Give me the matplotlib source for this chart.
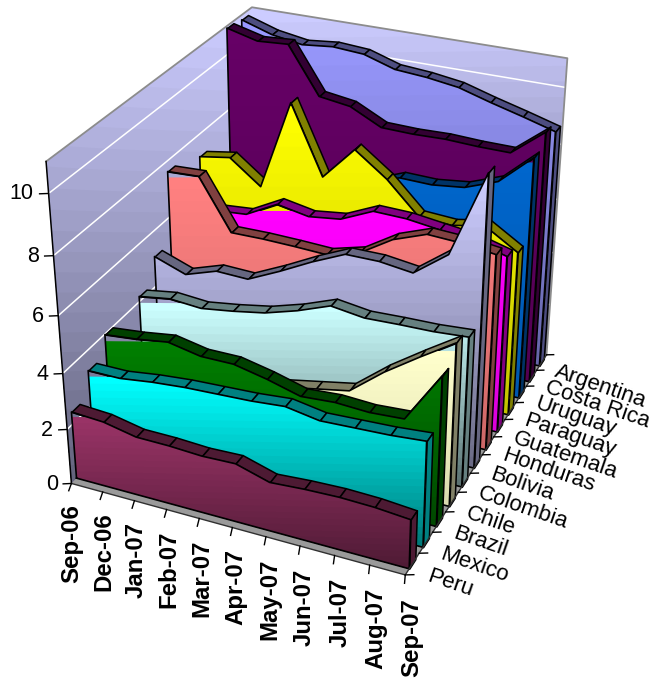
import numpy as np
import matplotlib
matplotlib.use("Agg")
import matplotlib.pyplot as plt
from matplotlib.colors import to_rgb
from mpl_toolkits.mplot3d import proj3d
from mpl_toolkits.mplot3d.art3d import Poly3DCollection

plt.rcParams["font.family"] = ["Liberation Sans", "DejaVu Sans"]

months = ["Sep-06", "Dec-06", "Jan-07", "Feb-07", "Mar-07", "Apr-07",
          "May-07", "Jun-07", "Jul-07", "Aug-07", "Sep-07"]
countries = ["Peru", "Mexico", "Brazil", "Chile", "Colombia", "Bolivia",
             "Honduras", "Guatemala", "Paraguay", "Uruguay", "Costa Rica", "Argentina"]

peru = [2.45, 2.38, 2.14, 2.13, 2.07, 2.11, 1.76, 1.84, 1.88, 1.85, 1.75]
mexico = [3.3, 3.3, 3.45, 3.55, 3.6, 3.65, 3.75, 3.55, 3.6, 3.65, 3.75]
brazil = [3.98, 4.09, 4.25, 4.02, 4.02, 3.77, 3.45, 3.53, 3.47, 3.54, 5.29]
chile = [2.8, 2.7, 2.6, 2.6, 2.7, 2.85, 3.07, 3.29, 4.23, 5.03, 5.79]
colombia = [4.19, 4.36, 4.27, 4.43, 4.63, 4.97, 5.40, 5.24, 5.28, 5.30, 5.38]
bolivia = [5.09, 4.68, 5.05, 5.01, 5.54, 6.12, 6.63, 6.63, 6.48, 7.35, 10.26]
honduras = [7.63, 7.68, 5.90, 5.91, 5.88, 5.83, 6.13, 6.84, 7.26, 7.2, 7.05]
guatemala = [5.7, 5.95, 6.04, 6.63, 6.42, 6.56, 7.07, 7.04, 6.89, 6.75, 6.44]
paraguay = [7.20, 7.38, 6.54, 9.73, 7.33, 8.51, 7.69, 6.59, 6.52, 6.73, 6.03]
uruguay = [6.0, 5.9, 5.8, 6.0, 6.3, 6.8, 7.25, 7.22, 7.35, 7.78, 8.82]
costa_rica = [10.93, 10.65, 10.72, 9.07, 8.91, 8.36, 8.33, 8.36, 8.31, 8.30, 9.22]
argentina = [10.83, 10.48, 10.30, 10.41, 10.33, 9.98, 9.89, 9.73, 9.40, 9.10, 8.78]

series = [peru, mexico, brazil, chile, colombia, bolivia,
          honduras, guatemala, paraguay, uruguay, costa_rica, argentina]
colors = ["#993366", "#00FFFF", "#007F00", "#FFFFCC", "#CCFFFF", "#CCCCFF",
          "#FF8080", "#FF00FF", "#FFFF00", "#0066CC", "#660066", "#9999FF"]
# how far each front face fades towards its bottom
fades = [0.5, 0.45, 0.55, 0.85, 0.42, 0.5, 0.8, 0.85, 0.75, 0.85, 0.8, 0.65]

z_max = 11
z_ticks = [0, 2, 4, 6, 8, 10]
n_x = len(months) - 1
n_y = len(countries)
GAP_FRONT = 0.28
DEPTH = 0.44
STEPS = 24

W, H = 663, 681
fig = plt.figure(figsize=(W / 100, H / 100), dpi=100, facecolor="white")
ax = fig.add_subplot(projection="3d", computed_zorder=False)
ax.set_xlim(0, n_x)
ax.set_ylim(0, n_y)
ax.set_zlim(0, z_max)
ax.view_init(28.7871, -66.185, -0.0847)
ax.set_box_aspect((1.0078, 1.2046, 1.0))
ax.set_proj_type("persp", focal_length=0.5347)
ax.set_axis_off()

# place the axes so the camera centre lands where it does in the picture
scale, cx, cy = 3435.84, 322.42, 268.24
x0, x1 = ax.viewLim.intervalx
y0, y1 = ax.viewLim.intervaly
side = scale * (x1 - x0)
ax.set_position([(cx + scale * x0) / W, (H - cy + scale * y0) / H, side / W, side / H])

order = [10]


def next_z():
    order[0] += 1
    return order[0]


def project(px, py, pz):
    return proj3d.proj_transform(px, py, pz, ax.get_proj())


def screen_y(px, py, pz):
    return project(px, py, pz)[1]


def add_poly(verts, color, edge="none", lw=0.0):
    col = Poly3DCollection(verts, facecolor=color, edgecolor=edge, linewidths=lw, zorder=next_z())
    ax.add_collection3d(col, autolim=False)


def label_at(px, py, pz, text, **kw):
    # Text3D drops rotation, so place plain text at the projected point
    sx, sy, _ = project(np.array([px], float), np.array([py], float), np.array([pz], float))
    ax.text2D(sx[0], sy[0], text, transform=ax.transData, color="black", **kw)


def gradient_face(to3d, u, top, color, fade):
    # bands level on the screen, painted from the whole face down to its lowest corner
    zref = np.full_like(u, z_max, dtype=float)
    w0 = screen_y(*to3d(u, 0 * zref))
    w1 = screen_y(*to3d(u, zref))
    w_top = screen_y(*to3d(u, top))
    hi, lo = w_top.max(), w0.min()
    rgb = np.array(to_rgb(color))
    for t in np.linspace(0, 1, STEPS, endpoint=False):
        level = hi + (lo - hi) * t
        upper = np.clip(np.minimum(top, z_max * (level - w0) / (w1 - w0)), 0, None)
        px, py, pz = to3d(np.r_[u, u[::-1]], np.r_[upper, 0 * upper])
        add_poly([np.c_[px, py, pz]], tuple(rgb * (1 - (1 - fade) * t)))


u_x = np.linspace(0, n_x, 201)
u_y = np.linspace(0, n_y, 121)
x_idx = np.arange(n_x + 1)

# walls
gradient_face(lambda u, z: (0 * u, u, z), u_y, np.full_like(u_y, z_max), "#CCCCFF", 0.47)
gradient_face(lambda u, z: (u, 0 * u + n_y, z), u_x, np.full_like(u_x, z_max), "#CCCCFF", 0.47)
for z in z_ticks[1:]:
    ax.plot([0, 0, n_x], [0, n_y, n_y], [z, z, z], color="white", lw=1.1, zorder=next_z())
ax.plot([0, 0, n_x, n_x], [0, n_y, n_y, n_y], [z_max, z_max, z_max, 0],
        color="#8c8c8c", lw=1.3, zorder=next_z())

# floor
add_poly([[(0, 0, 0), (n_x, 0, 0), (n_x, n_y, 0), (0, n_y, 0)]], "#9a9a9a")

# ribbons, back to front
for i in reversed(range(n_y)):
    vals = np.array(series[i], dtype=float)
    rgb = np.array(to_rgb(colors[i]))
    yf, yb = i + GAP_FRONT, i + GAP_FRONT + DEPTH
    dark = tuple(rgb * 0.5)

    quads = [[(k, yf, vals[k]), (k + 1, yf, vals[k + 1]), (k + 1, yb, vals[k + 1]), (k, yb, vals[k])]
             for k in range(n_x)]
    for quad in quads:
        add_poly([quad], dark, edge="black", lw=1.1)
    add_poly([[(n_x, yf, 0), (n_x, yb, 0), (n_x, yb, vals[-1]), (n_x, yf, vals[-1])]],
             dark, edge="black", lw=1.1)

    top = np.interp(u_x, x_idx, vals)
    gradient_face(lambda u, z: (u, 0 * u + yf, z), u_x, top, colors[i], fades[i])
    ax.plot(np.r_[0, x_idx, n_x, 0], np.full(n_x + 4, yf), np.r_[0, vals, 0, 0],
            color="black", lw=1.2, zorder=next_z())

# axes lines, ticks and labels
zt = next_z()
ax.plot([0, 0], [0, 0], [0, z_max], color="black", lw=1.1, zorder=zt)
ax.plot([0, n_x], [0, 0], [0, 0], color="#303030", lw=1.0, zorder=zt)
ax.plot([n_x, n_x], [0, n_y], [0, 0], color="#303030", lw=1.0, zorder=zt)

for k, label in enumerate(months):
    ax.plot([k, k + 0.11], [0, -0.33], [0, 0], color="black", lw=1.0, zorder=zt, clip_on=False)
    label_at(k + 0.5, -0.82, 0, label, rotation=90, ha="center", va="top",
             fontsize=17.3, fontweight="bold")

for j in range(n_y + 1):
    ax.plot([n_x, n_x + 0.2], [j, j + 0.1], [0, 0], color="black", lw=1.0, zorder=zt, clip_on=False)

for j, label in enumerate(countries):
    label_at(n_x + 0.537, j + 0.5 - 0.287, 0, label, rotation=-19, rotation_mode="anchor",
             ha="left", va="center", fontsize=16)

for z in z_ticks:
    ax.plot([0, -0.2], [0, -0.11], [z, z], color="black", lw=1.0, zorder=zt, clip_on=False)
    label_at(-0.33, -0.18, z, str(z), ha="right", va="center", fontsize=15.5)

fig.savefig("out.png", dpi=100)
